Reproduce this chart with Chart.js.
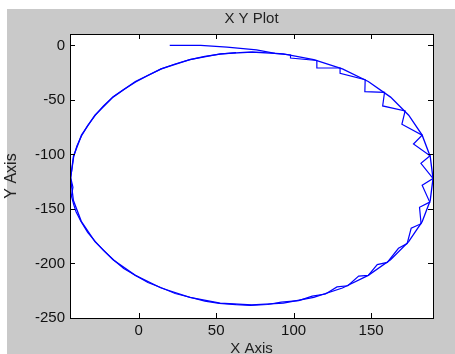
<!DOCTYPE html>
<html>
<head>
<meta charset="utf-8">
<script src="https://cdn.jsdelivr.net/npm/chart.js@4.4.1/dist/chart.umd.min.js"></script>
<style>
  html, body { margin: 0; padding: 0; background: #ffffff; overflow: hidden; }
  #wrap { width: 455px; height: 354px; overflow: hidden; }
</style>
</head>
<body>
<div id="wrap"><canvas id="myChart" width="455" height="363"></canvas></div>
<script>
// true path (smooth loop)
var trueX = [73, 93.4, 113, 131.5, 148.2, 162.6, 174.3, 183, 188.2, 190, 188.2, 183, 174.3, 162.6, 148.2, 131.5, 113, 93.4,
  73, 52.6, 33, 14.5, -2.2, -16.6, -28.3, -37, -42.2, -44, -42.2, -37, -28.3, -16.6, -2.2, 14.5, 33, 52.6, 73];
var trueY = [-6, -7.7, -13, -21.5, -33.1, -47.4, -64, -82.3, -101.8, -122, -142.2, -161.7, -180, -196.6, -210.9, -222.5, -231, -236.3,
  -238, -236.3, -231, -222.5, -210.9, -196.6, -180, -161.7, -142.2, -122, -101.8, -82.3, -64, -47.4, -33.1, -21.5, -13, -7.7, -6];

// estimated path (starts off the loop, saw teeth on the right side)
var estX = [20, 40, 57, 76, 88, 98, 98, 115, 115, 130, 130, 146.2, 146, 158.7, 157.5, 172, 169.9, 183, 177.4,
  188.1, 182.2, 190, 183, 187.9, 181.3, 182.3, 175.9, 173.3, 167.7, 160.5, 154, 148.2, 142,
  135, 128, 120.6, 112, 103.3, 92, 83.2, 72, 62.8, 52, 42.7, 33, 23.5, 15, 5.9, -2, -9.7, -16, -22.8, -28, -33,
  -37.5, -40.5, -42, -43.5, -42.5, -44, -43, -42, -40, -37, -33, -28, -22.8, -16.5, -9.7, -2, 5.9, 14.5, 23.5, 33, 42.7, 52.6, 62.8];
var estY = [0, 0, -1.5, -4, -7.2, -8.7, -11.5, -13.8, -20.5, -20.7, -25.5, -31.5, -42.4, -43, -55.5, -60, -72.3, -82.3, -90.4,
  -101.2, -108.1, -122, -128.3, -143.7, -148.4, -163.5, -167.7, -181.7, -186.1, -199, -201, -210.9, -211.5,
  -220.4, -221.5, -228, -230, -234.1, -235.5, -237.6, -238.5, -237.8, -236.5, -234.5, -231, -227.5, -222.5, -217.5, -211, -204.5, -197, -188, -180, -171.5,
  -161, -152.5, -146, -138, -130, -121, -112, -102, -92.5, -83, -73.5, -64, -55.5, -47, -40.5, -33.5, -27.5, -21.5, -17, -13, -10, -8, -6.5];

var xTicks = [0, 50, 100, 150];
var yTicks = [0, -50, -100, -150, -200, -250];

function toPoints(xs, ys) {
  var pts = [];
  for (var i = 0; i < xs.length; i++) pts.push({x: xs[i], y: ys[i]});
  return pts;
}

// grey figure, white axes, box with inward ticks
var matlabFrame = {
  id: 'matlabFrame',
  beforeDraw: function(chart) {
    var ctx = chart.ctx, a = chart.chartArea;
    ctx.save();
    ctx.fillStyle = '#ffffff';
    ctx.fillRect(0, 0, chart.width, chart.height);
    ctx.fillStyle = '#c9c9c9';
    ctx.fillRect(7, 9, chart.width - 7, chart.height - 9);
    ctx.fillStyle = '#ffffff';
    ctx.fillRect(a.left, a.top, a.right - a.left, a.bottom - a.top);
    ctx.restore();
  },
  afterDraw: function(chart) {
    var ctx = chart.ctx, a = chart.chartArea;
    var xs = chart.scales.x, ys = chart.scales.y, len = 5;
    ctx.save();
    ctx.strokeStyle = '#000000';
    ctx.lineWidth = 1;
    ctx.beginPath();
    xTicks.forEach(function(v) {
      var px = Math.round(xs.getPixelForValue(v)) + 0.5;
      ctx.moveTo(px, a.bottom); ctx.lineTo(px, a.bottom - len);
      ctx.moveTo(px, a.top); ctx.lineTo(px, a.top + len);
    });
    yTicks.forEach(function(v) {
      var py = Math.round(ys.getPixelForValue(v)) + 0.5;
      ctx.moveTo(a.left, py); ctx.lineTo(a.left + len, py);
      ctx.moveTo(a.right, py); ctx.lineTo(a.right - len, py);
    });
    ctx.stroke();
    ctx.strokeRect(Math.round(a.left) + 0.5, Math.round(a.top) + 0.5,
      Math.round(a.right - a.left), Math.round(a.bottom - a.top));
    ctx.restore();
  }
};

var family = "'Liberation Sans', Arial, sans-serif";
var tickFont = {family: family, size: 15};

var ctx = document.getElementById('myChart').getContext('2d');
var myChart = new Chart(ctx, {
  type: 'scatter',
  data: {
    datasets: [{
      label: 'true',
      data: toPoints(trueX, trueY),
      showLine: true,
      borderColor: '#0000ff',
      borderWidth: 1.3,
      pointRadius: 0
    }, {
      label: 'estimate',
      data: toPoints(estX, estY),
      showLine: true,
      borderColor: '#0000ff',
      borderWidth: 1.2,
      pointRadius: 0
    }]
  },
  options: {
    responsive: false,
    animation: false,
    layout: {padding: {left: 0, right: 22, top: 0, bottom: 0}},
    plugins: {
      legend: {display: false},
      tooltip: {enabled: false},
      title: {
        display: true,
        text: 'X Y Plot',
        fullSize: false,
        color: '#222222',
        font: {family: family, size: 15, weight: 'normal'},
        padding: {top: 10, bottom: 6}
      }
    },
    scales: {
      x: {
        type: 'linear',
        min: -44.4,
        max: 190,
        afterBuildTicks: function(s) { s.ticks = xTicks.map(function(v) { return {value: v}; }); },
        afterFit: function(s) { s.height = 45; },
        grid: {display: false, drawTicks: false},
        border: {display: false},
        ticks: {color: '#111111', font: tickFont, padding: 4, maxRotation: 0},
        title: {display: true, text: 'X Axis', color: '#222222', font: {family: family, size: 15}, padding: {top: 0, bottom: 5}}
      },
      y: {
        type: 'linear',
        min: -250,
        max: 10.5,
        afterBuildTicks: function(s) { s.ticks = yTicks.map(function(v) { return {value: v}; }); },
        afterFit: function(s) { s.width = 70; },
        grid: {display: false, drawTicks: false},
        border: {display: false},
        ticks: {color: '#111111', font: tickFont, padding: 5},
        title: {display: true, text: 'Y Axis', color: '#222222', font: {family: family, size: 16}, padding: {top: 2, bottom: 0}}
      }
    }
  },
  plugins: [matlabFrame]
});
</script>
</body>
</html>
